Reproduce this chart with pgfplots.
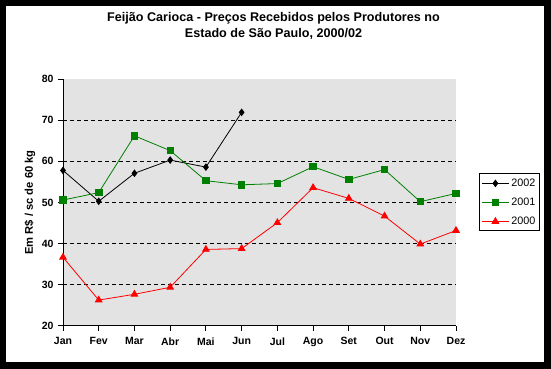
\documentclass[border=0pt]{standalone}
\usepackage{pgfplots}
\pgfplotsset{compat=1.18}
\usepackage{fontspec}
\setmainfont{Liberation Sans}
\definecolor{plotbg}{RGB}{227,227,227}
\definecolor{xgreen}{RGB}{0,128,0}
\definecolor{xred}{RGB}{255,0,0}
\begin{document}
\begin{tikzpicture}[x=1pt,y=1pt]
\fill[black] (0,0) rectangle (551,369);
\fill[white] (6,7) rectangle (544,363);
\begin{axis}[
  at={(63pt,43pt)}, anchor=south west,
  scale only axis, width=393pt, height=247pt,
  xmin=0, xmax=11, ymin=20, ymax=80,
  axis background/.style={fill=plotbg},
  axis x line*=bottom, axis y line*=left,
  axis line style={line width=1pt,-},
  xtick={0,...,11},
  xticklabels={Jan,Fev,Mar,Abr,Mai,Jun,Jul,Ago,Set,Out,Nov,Dez},
  ytick={20,30,...,80},
  tick align=outside, major tick length=5pt,
  tick style={line width=1pt, black},
  /pgf/number format/assume math mode=true,
  ticklabel style={font=\bfseries\fontsize{10.5}{12}\selectfont},
  xticklabel style={yshift=-3pt},
  yticklabel style={xshift=-1pt},
  extra y ticks={30,40,50,60,70},
  extra y tick labels={},
  extra y tick style={grid=major, major tick length=0pt, major grid style={black, line width=1pt, dash pattern=on 4pt off 3pt}},
  ylabel={Em R\$ / sc de 60 kg},
  ylabel style={at={(axis description cs:-0.084,0.5)}, rotate=0, anchor=center, font=\bfseries\fontsize{11.2}{12}\selectfont},
  title={Feijão Carioca - Preços Recebidos pelos Produtores no\\Estado de São Paulo, 2000/02},
  title style={at={(axis description cs:0.5356,1.19)}, anchor=center, align=center, font=\bfseries\fontsize{12.6}{16}\selectfont},
  legend style={at={(axis description cs:1.0585,0.618)}, anchor=north west, draw=black, line width=1pt, fill=white,
    font=\fontsize{10.8}{12}\selectfont, row sep=6pt, inner xsep=2pt, inner ysep=3pt},
  legend cell align=left,
  legend image code/.code={\draw[mark repeat=2,mark phase=2] plot coordinates {(0pt,0pt)(13.5pt,0pt)(27pt,0pt)};},
  clip=false,
]
\addplot[black, line width=0.8pt, mark=diamond*, mark size=3.2pt, mark options={solid}] coordinates {
(0,57.8)(1,50.3)(2,57.1)(3,60.3)(4,58.6)(5,71.9)};
\addlegendentry{2002}
\addplot[xgreen, line width=0.8pt, mark=square*, mark size=3.2pt] coordinates {
(0,50.6)(1,52.4)(2,66.2)(3,62.6)(4,55.3)(5,54.3)(6,54.6)(7,58.7)(8,55.6)(9,58.0)(10,50.2)(11,52.2)};
\addlegendentry{2001}
\addplot[xred, line width=0.8pt, mark=triangle*, mark size=3.8pt] coordinates {
(0,36.7)(1,26.3)(2,27.7)(3,29.4)(4,38.6)(5,38.8)(6,45.1)(7,53.6)(8,51.0)(9,46.7)(10,39.9)(11,43.2)};
\addlegendentry{2000}
\end{axis}
\useasboundingbox (0,0) rectangle (551,369);
\end{tikzpicture}
\end{document}
